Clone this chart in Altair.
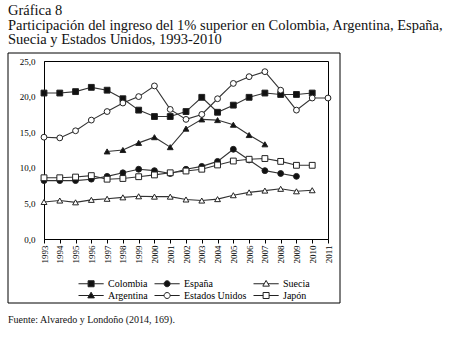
import altair as alt
import pandas as pd

years = list(range(1993, 2012))
series_names = ["Colombia", "España", "Suecia", "Argentina", "Estados Unidos", "Japón"]

colombia = [20.5, 20.5, 20.7, 21.3, 20.9, 19.7, 18.1, 17.2, 17.2, 17.9, 19.9, 17.8, 18.8, 19.9, 20.5, 20.3, 20.3, 20.5, None]
espana = [8.2, 8.2, 8.2, 8.4, 8.8, 9.3, 9.8, 9.6, 9.2, 9.8, 10.2, 10.9, 12.6, 11.1, 9.6, 9.2, 8.8, None, None]
suecia = [5.2, 5.4, 5.15, 5.5, 5.65, 5.85, 6.0, 5.95, 5.95, 5.55, 5.4, 5.6, 6.15, 6.55, 6.8, 7.05, 6.7, 6.85, None]
argentina = [None, None, None, None, 12.3, 12.5, 13.5, 14.3, 12.9, 15.5, 16.8, 16.7, 16.05, 14.6, 13.3, None, None, None, None]
eeuu = [14.3, 14.2, 15.2, 16.7, 17.9, 19.1, 20.0, 21.5, 18.2, 16.8, 17.5, 19.7, 21.85, 22.8, 23.5, 20.9, 18.1, 19.8, 19.8]
japon = [8.6, 8.6, 8.7, 8.9, 8.4, 8.5, 8.75, 9.0, 9.3, 9.55, 9.8, 10.4, 10.95, 11.2, 11.3, 10.9, 10.35, 10.35, None]

y_ticks = [0, 5, 10, 15, 20, 25]

title_lines = [
    "Gráfica 8",
    "Participación del ingreso del 1% superior en Colombia, Argentina, España,",
    "Suecia y Estados Unidos, 1993-2010",
]
source_text = "Fuente: Alvaredo y Londoño (2014, 169)."

all_series = [colombia, espana, suecia, argentina, eeuu, japon]
rows = []
for name, vals in zip(series_names, all_series):
    for yr, v in zip(years, vals):
        if v is not None:
            rows.append({"year": yr, "value": v, "series": name})
df = pd.DataFrame(rows)

SERIF = "Liberation Serif"
LINE = "#333333"
EDGE = "#222222"

shapes = ["square", "circle", "triangle-up", "triangle-up", "circle", "square"]
fills = ["#111111", "#111111", "#ffffff", "#111111", "#ffffff", "#ffffff"]

# legend symbols: short line with the marker in its middle
seg_sq = "M-1,0H0.6M1.6,0H3.2"
seg_tr = "M-1,0H0.78M1.42,0H3.2"
p_sq = seg_sq + "M0.6,-0.5H1.6V0.5H0.6Z"
p_ci = seg_sq + "M1.6,0A0.5,0.5 0 1,1 0.6,0A0.5,0.5 0 1,1 1.6,0Z"
p_tr = seg_tr + "M1.1,-0.55L1.65,0.4L0.55,0.4Z"
legend_shapes = [p_sq, p_ci, p_tr, p_tr, p_ci, p_sq]

x_axis = alt.Axis(
    values=years, format="d", labelAngle=-90, title=None, grid=False,
    tickSize=4, tickColor="black", domainColor="black", labelPadding=2,
    labelFont=SERIF, labelFontSize=9, labelColor="black", labelOverlap=False,
    labelFlush=False, tickCount=19,
)
y_axis = alt.Axis(
    values=y_ticks, title=None, grid=False, ticks=False, labelPadding=9,
    labelExpr="replace(format(datum.value, '.1f'), '.', ',')", labelOverlap=False,
    labelFlush=False, tickCount=6,
    domainColor="black", labelFont=SERIF, labelFontSize=9, labelColor="black",
)
x_scale = alt.Scale(domain=[1993, 2011], nice=False, zero=False)
y_scale = alt.Scale(domain=[0, 25], nice=False)


def xe():
    return alt.X("year:Q", scale=x_scale, axis=x_axis)


def ye():
    return alt.Y("value:Q", scale=y_scale, axis=y_axis)


lines = alt.Chart(df).mark_line(strokeWidth=1.1, color=LINE).encode(
    x=xe(), y=ye(), detail="series:N"
)

points = alt.Chart(df).mark_point(filled=True, size=34, stroke=EDGE, strokeWidth=1, opacity=1).encode(
    x=xe(),
    y=ye(),
    shape=alt.Shape("series:N", scale=alt.Scale(domain=series_names, range=shapes), legend=None),
    fill=alt.Fill("series:N", scale=alt.Scale(domain=series_names, range=fills), legend=None),
)

leg_kw = dict(
    title=None, orient="none", legendX=34, legendY=216, columns=3, direction="horizontal",
    symbolSize=144, labelOffset=17, columnPadding=4, rowPadding=0,
    labelFont=SERIF, labelFontSize=10, labelColor="black", padding=0,
    symbolStrokeWidth=1, symbolOpacity=1,
)
legend_layer = alt.Chart(df).transform_filter("false").mark_point(
    filled=False, strokeWidth=1, opacity=1
).encode(
    x=xe(),
    y=ye(),
    shape=alt.Shape("series:N", scale=alt.Scale(domain=series_names, range=legend_shapes),
                    legend=alt.Legend(**leg_kw)),
    fill=alt.Fill("series:N", scale=alt.Scale(domain=series_names, range=fills),
                  legend=alt.Legend(**leg_kw)),
    stroke=alt.Stroke("series:N", scale=alt.Scale(domain=series_names, range=[EDGE] * 6),
                      legend=alt.Legend(**leg_kw)),
)

title_df = pd.DataFrame({"t": ["\n".join(title_lines)]})
title_mark = alt.Chart(title_df).mark_text(
    align="left", baseline="top", lineBreak="\n", lineHeight=14.5,
    font=SERIF, fontSize=14.5, fontWeight="normal", color="#111111",
).encode(x=alt.value(-36), y=alt.value(-57), text="t:N")

source_df = pd.DataFrame({"t": [source_text]})
source_mark = alt.Chart(source_df).mark_text(
    align="left", baseline="middle", font=SERIF, fontSize=10, color="#111111",
).encode(x=alt.value(-36), y=alt.value(259), text="t:N")

box_df = pd.DataFrame({"k": [1]})
box = alt.Chart(box_df).mark_rect(filled=False, stroke="black", strokeWidth=1).encode(
    x=alt.value(-36), x2=alt.value(296), y=alt.value(-8), y2=alt.value(242)
)

chart = alt.layer(box, lines, points, legend_layer, title_mark, source_mark).resolve_scale(
    shape="independent", fill="independent", stroke="independent"
).properties(
    width=284, height=178,
    autosize=alt.AutoSizeParams(type="none"),
    padding={"left": 44, "top": 61, "right": 125, "bottom": 98},
    background="white",
).configure_view(stroke="black", strokeWidth=1)

chart.save("out.html", embed_options={"renderer": "svg", "actions": False})
